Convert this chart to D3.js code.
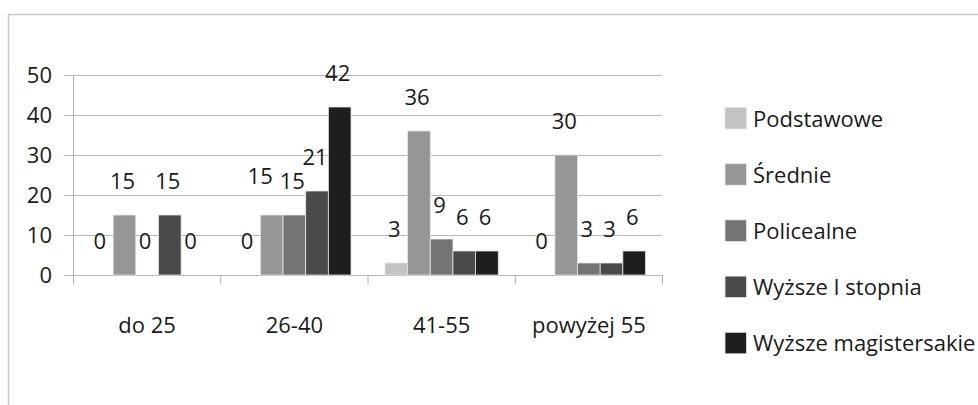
<!DOCTYPE html>
<html>
<head>
<meta charset="utf-8">
<script src="https://cdn.jsdelivr.net/npm/d3@7"></script>
<style>
html,body{margin:0;padding:0;background:#fff;}
svg{display:block;font-family:"Open Sans",sans-serif;}
</style>
</head>
<body>
<svg id="chart" width="978" height="405"></svg>
<script>
const categories = ["do 25", "26-40", "41-55", "powyżej 55"];
const seriesNames = ["Podstawowe", "Średnie", "Policealne", "Wyższe I stopnia", "Wyższe magistersakie"];
const podstawowe = [0, 0, 3, 0];
const srednie = [15, 15, 36, 30];
const policealne = [0, 15, 9, 3];
const wyzszeI = [15, 21, 6, 3];
const magisterskie = [0, 42, 6, 6];
const yTicks = [0, 10, 20, 30, 40, 50];
const colors = ["#c3c3c3", "#969696", "#747474", "#4a4a4a", "#1e1e1e"];

const seriesValues = [podstawowe, srednie, policealne, wyzszeI, magisterskie];

(function () {
const svg = d3.select("#chart");
const pLeft = 73.5, pRight = 662.5, pTop = 75, pBottom = 275;

// chart area border
svg.append("path")
  .attr("d", "M8.5,405 L8.5,14.5 L978,14.5")
  .attr("fill", "none").attr("stroke", "#c8c8c8").attr("stroke-width", 1.5);

const x = d3.scaleBand().domain(categories).range([pLeft, pRight]).paddingInner(0).paddingOuter(0);
const y = d3.scaleLinear().domain([0, 50]).range([pBottom, pTop]);
// Excel gap width 150%: bar = band/6.5, gap of 0.75 bar at each side
const inner = d3.scaleBand().domain(d3.range(seriesNames.length))
  .range([x.bandwidth() * 0.75 / 6.5, x.bandwidth() * (1 - 0.75 / 6.5)])
  .paddingInner(0).paddingOuter(0);

// gridlines
svg.append("g").selectAll("line").data(yTicks).join("line")
  .attr("x1", pLeft - 10).attr("x2", pRight)
  .attr("y1", d => Math.round(y(d)) + 0.5).attr("y2", d => Math.round(y(d)) + 0.5)
  .attr("stroke", "#b8b8b8").attr("stroke-width", 1);

// y axis line
svg.append("line").attr("x1", pLeft).attr("x2", pLeft)
  .attr("y1", pTop).attr("y2", pBottom + 9)
  .attr("stroke", "#b0b0b0");

// x category ticks
svg.append("g").selectAll("line").data(d3.range(categories.length + 1)).join("line")
  .attr("x1", i => pLeft + i * x.bandwidth()).attr("x2", i => pLeft + i * x.bandwidth())
  .attr("y1", pBottom).attr("y2", pBottom + 9)
  .attr("stroke", "#b0b0b0");

// y tick labels
svg.append("g").selectAll("text").data(yTicks).join("text")
  .attr("x", 52).attr("y", d => y(d) + 8)
  .attr("text-anchor", "end").attr("font-size", 22).attr("fill", "#1a1a1a")
  .text(d => d);

// bars
const flat = [];
categories.forEach((c, ci) => {
  seriesValues.forEach((vals, si) => flat.push({c, ci, si, v: vals[ci]}));
});
svg.append("g").selectAll("rect").data(flat.filter(d => d.v > 0)).join("rect")
  .attr("x", d => x(d.c) + inner(d.si))
  .attr("y", d => y(d.v))
  .attr("width", inner.bandwidth())
  .attr("height", d => y(0) - y(d.v))
  .attr("fill", d => colors[d.si])
  .attr("stroke", "#e4e4e4").attr("stroke-width", 0.8);

// data labels
flat.forEach(d => {
  d.lx = x(d.c) + inner(d.si) + inner.bandwidth() / 2 - 2;
  d.ly = y(d.v) - 26;
});
const labels = svg.append("g").selectAll("text").data(flat).join("text")
  .attr("text-anchor", "middle").attr("font-size", 22).attr("fill", "#1a1a1a")
  .text(d => d.v)
  .attr("x", d => d.lx).attr("y", d => d.ly);
labels.each(function (d) { d.w = this.getComputedTextLength(); });
// simple overlap avoidance inside each group (push left & up)
categories.forEach((c, ci) => {
  const g = flat.filter(d => d.ci === ci);
  for (let i = g.length - 2; i >= 0; i--) {
    const a = g[i], b = g[i + 1];
    const aR = a.lx + a.w / 2, bL = b.lx - b.w / 2;
    if (aR + 4 > bL && Math.abs(a.ly - b.ly) < 14) {
      a.lx -= (aR + 7 - bL);
      a.ly -= 5;
    }
  }
});
labels.attr("x", d => d.lx).attr("y", d => d.ly);

// x labels
svg.append("g").selectAll("text").data(categories).join("text")
  .attr("x", d => x(d) + x.bandwidth() / 2)
  .attr("y", 333)
  .attr("text-anchor", "middle").attr("font-size", 22).attr("fill", "#1a1a1a")
  .text(d => d);

// legend
const lg = svg.append("g").selectAll("g").data(seriesNames).join("g")
  .attr("transform", (d, i) => `translate(725, ${118 + i * 56.2})`);
lg.append("rect").attr("x", 0).attr("y", -10.5).attr("width", 21.5).attr("height", 21.5)
  .attr("fill", (d, i) => colors[i]).attr("stroke", "#e4e4e4").attr("stroke-width", 0.8);
lg.append("text").attr("x", 28).attr("y", 8.5)
  .attr("font-size", 22).attr("fill", "#1a1a1a").text(d => d);
})();
</script>
</body>
</html>
